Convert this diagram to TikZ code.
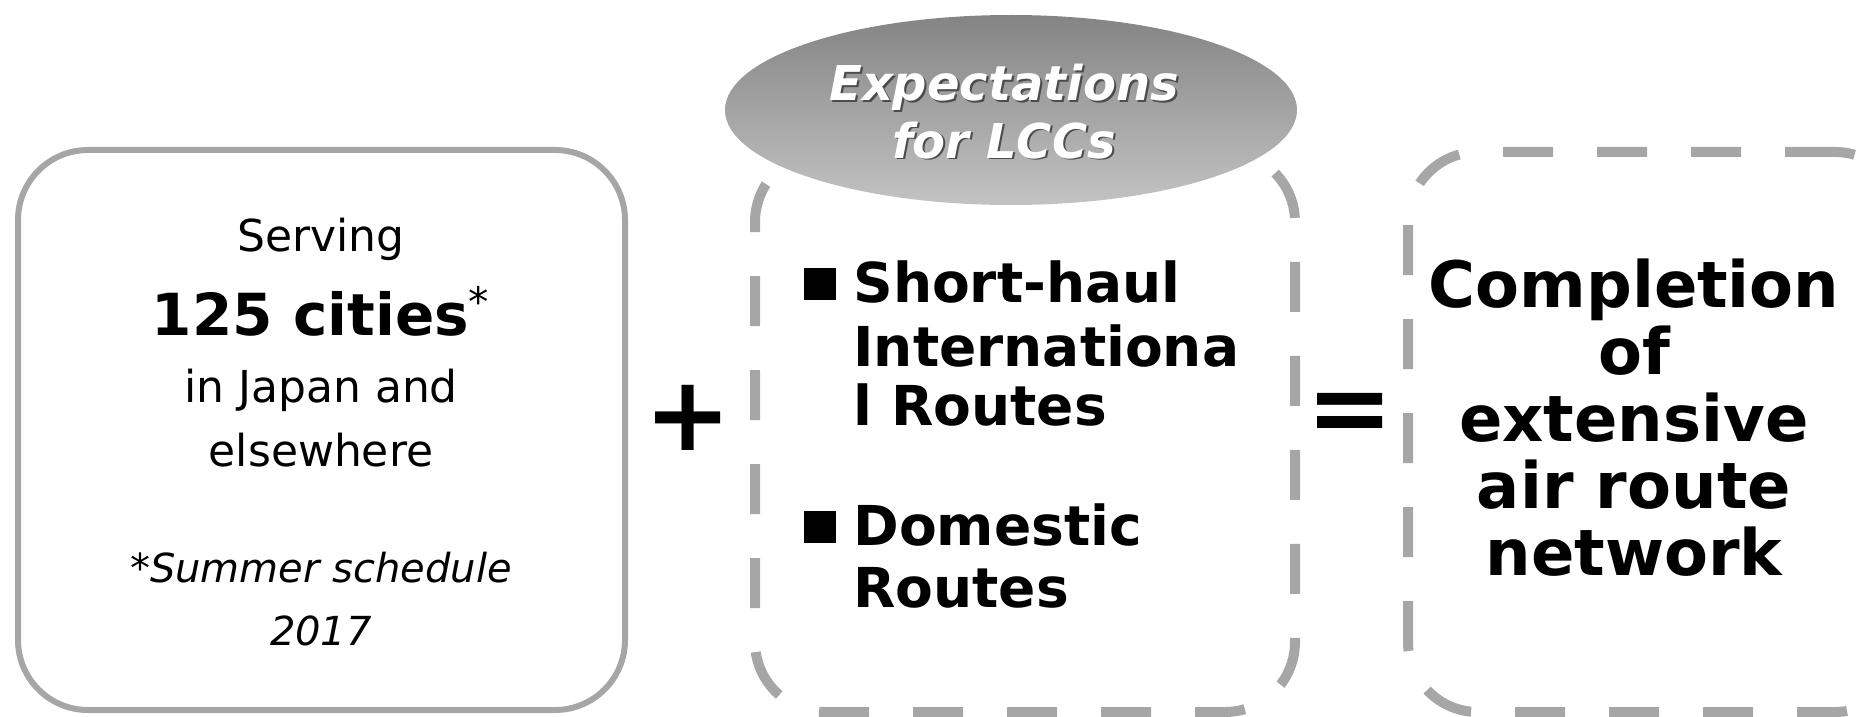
\documentclass[tikz,border=0pt]{standalone}
\usepackage{fontspec}
\setmainfont{DejaVu Sans}
\usetikzlibrary{shapes.geometric}
\definecolor{boxgray}{RGB}{166,166,166}
\definecolor{elltop}{RGB}{132,132,132}
\definecolor{ellbot}{RGB}{195,195,195}
\tikzset{
  solidbox/.style={draw=boxgray, line width=3pt, rounded corners=35pt, inner sep=0pt},
  dashbox/.style={draw=boxgray, line width=5pt, rounded corners=35pt, dash pattern=on 25pt off 22pt, inner sep=0pt},
  txt/.style={inner sep=0pt, anchor=base},
  regtxt/.style={txt, font=\fontsize{22pt}{26pt}\selectfont},
  bigtxt/.style={txt, font=\bfseries\fontsize{29pt}{33pt}\selectfont},
  ittxt/.style={txt, font=\itshape\fontsize{20pt}{24pt}\selectfont},
  midtxt/.style={txt, anchor=base west, font=\bfseries\fontsize{27.5pt}{31pt}\selectfont},
  bulletsq/.style={fill=black, draw=none, minimum size=16pt, inner sep=0pt},
  righttxt/.style={inner sep=0pt, align=center, font=\bfseries\fontsize{32pt}{33.5pt}\selectfont},
  elltxt/.style={txt, font=\bfseries\itshape\fontsize{24pt}{28pt}\selectfont},
  opsym/.style={inner sep=0pt, font=\bfseries\fontsize{52pt}{56pt}\selectfont}
}
\begin{document}
\begin{tikzpicture}[x=0.5pt,y=-0.5pt]
\clip (0,0) rectangle (1874,717);
% boxes
\node[solidbox, minimum width=303.5pt, minimum height=280pt] (leftbox) at (321.5,430) {};
\node[dashbox, minimum width=270pt, minimum height=280pt] (midbox) at (1025,432) {};
\node[dashbox, minimum width=248.5pt, minimum height=280pt] (rightbox) at (1656.5,432) {};
% ellipse
\node[ellipse, top color=elltop, bottom color=ellbot, draw=none, minimum width=286pt, minimum height=95pt, inner sep=0pt] (ell) at (1011,110) {};
\node[elltxt, text=black!70] (exps) at (1006,103) {Expectations};
\node[elltxt, text=white] (exp) at (1004,101) {Expectations};
\node[elltxt, text=black!70] (lccs) at (1006,160) {for LCCs};
\node[elltxt, text=white] (lcc) at (1004,158) {for LCCs};
% left text
\node[regtxt] (serv) at (321,251) {Serving};
\node[bigtxt] (cities) at (321,335) {125 cities\textsuperscript{\mdseries *}};
\node[regtxt] (japan) at (321,402) {in Japan and};
\node[regtxt] (else) at (321,466) {elsewhere};
\node[ittxt] (summer) at (321,582) {*Summer schedule};
\node[ittxt] (year) at (321,645) {2017};
% operators
\node[opsym] (plus) at (688,418) {+};
\node[opsym] (equals) at (1350,418) {=};
% middle text
\node[bulletsq] (b1) at (820,284) {};
\node[midtxt] (l1) at (853,302) {Short-haul};
\node[midtxt] (l2) at (853,366) {Internationa};
\node[midtxt] (l3) at (853,425) {l Routes};
\node[bulletsq] (b2) at (820,527) {};
\node[midtxt] (l4) at (853,545) {Domestic};
\node[midtxt] (l5) at (853,607) {Routes};
% right text
\node[righttxt] (compl) at (1634,418) {Completion\\of\\extensive\\air route\\network};
\end{tikzpicture}
\end{document}
